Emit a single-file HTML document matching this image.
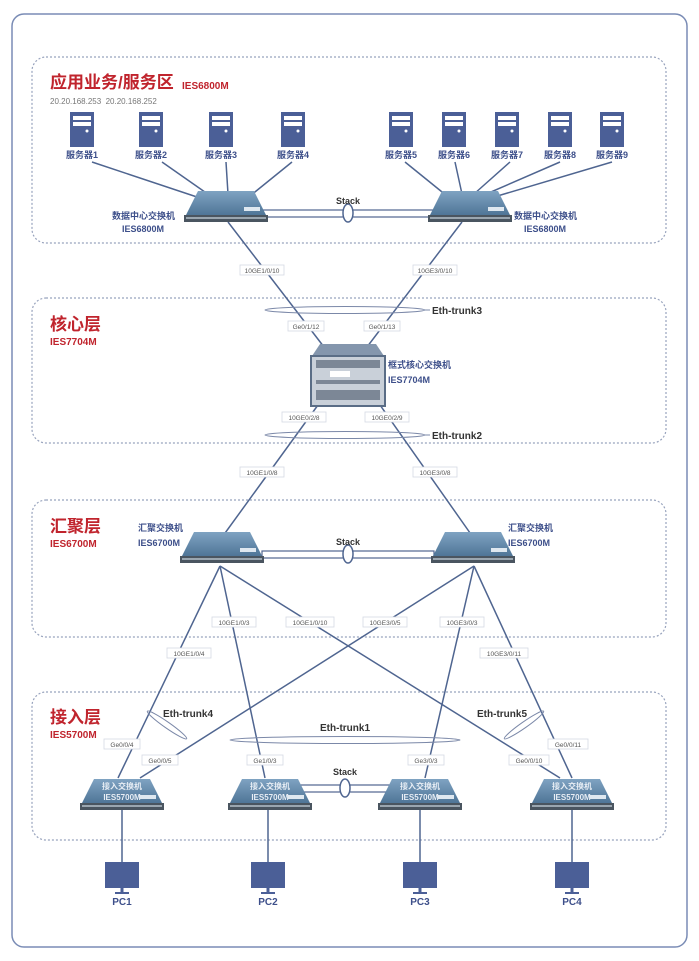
<!DOCTYPE html>
<html><head><meta charset="utf-8"><style>
html,body{margin:0;padding:0;background:#fff}
svg{display:block;font-family:"Liberation Sans","Noto Sans CJK SC",sans-serif}
</style></head><body>
<svg width="699" height="961" viewBox="0 0 699 961">
<defs>
<linearGradient id="sw" x1="0" y1="0" x2="0" y2="1"><stop offset="0" stop-color="#7fa3c2"/><stop offset="1" stop-color="#4f7597"/></linearGradient>
<g id="swd">
<polygon points="-28,-16 28,-16 40,8 -40,8" fill="url(#sw)"/>
<rect x="-42" y="8" width="84" height="7" fill="#4a5560"/>
<rect x="-40" y="10" width="80" height="2" fill="#9aa6b0"/>
<rect x="18" y="0" width="16" height="4" fill="#dfe8f0"/>
</g>
<g id="srv">
<rect x="-12" y="0" width="24" height="35" fill="#4b5f97"/>
<rect x="-9" y="4" width="18" height="4" fill="#fff"/>
<rect x="-9" y="10" width="18" height="4" fill="#fff"/>
<circle cx="5" cy="19" r="1.5" fill="#fff"/>
</g>
<g id="pc">
<rect x="-17" y="0" width="34" height="26" fill="#4b5f97"/>
<rect x="-1.5" y="26" width="3" height="4" fill="#4b5f97"/>
<rect x="-7" y="30" width="14" height="2" fill="#4b5f97"/>
</g>
</defs>
<rect x="12" y="14" width="675" height="933" rx="12" fill="none" stroke="#7a8cb5" stroke-width="1.5"/>
<g fill="none" stroke="#98a3bd" stroke-width="1.2" stroke-dasharray="2,2">
<rect x="32" y="57" width="634" height="186" rx="14"/>
<rect x="32" y="298" width="634" height="145" rx="14"/>
<rect x="32" y="500" width="634" height="137" rx="14"/>
<rect x="32" y="692" width="634" height="148" rx="14"/>
</g>
<!-- zone titles -->
<g fill="#c0242d" font-weight="bold">
<text x="50" y="88" font-size="17">应用业务/服务区</text>
<text x="182" y="89" font-size="10">IES6800M</text>
<text x="50" y="330" font-size="17">核心层</text>
<text x="50" y="345" font-size="10">IES7704M</text>
<text x="50" y="532" font-size="17">汇聚层</text>
<text x="50" y="547" font-size="10">IES6700M</text>
<text x="50" y="723" font-size="17">接入层</text>
<text x="50" y="738" font-size="10">IES5700M</text>
</g>
<text x="50" y="104" font-size="8" fill="#777">20.20.168.253 &#160;20.20.168.252</text>
<!-- lines -->
<g stroke="#4f6590" stroke-width="1.5" fill="none">
<line x1="92" y1="162" x2="200" y2="198"/><line x1="162" y1="162" x2="212" y2="197"/>
<line x1="226" y1="162" x2="228" y2="194"/><line x1="292" y1="162" x2="250" y2="196"/>
<line x1="405" y1="162" x2="447" y2="196"/><line x1="455" y1="162" x2="462" y2="194"/>
<line x1="510" y1="162" x2="474" y2="194"/><line x1="560" y1="162" x2="484" y2="195"/>
<line x1="612" y1="162" x2="494" y2="197"/>
<line x1="228" y1="222" x2="324" y2="347"/><line x1="462" y1="222" x2="367" y2="347"/>
<line x1="318" y1="405" x2="220" y2="540"/><line x1="380" y1="405" x2="475" y2="540"/>
<line x1="220" y1="566" x2="118" y2="778"/><line x1="220" y1="566" x2="265" y2="778"/><line x1="220" y1="566" x2="560" y2="778"/>
<line x1="474" y1="566" x2="140" y2="778"/><line x1="474" y1="566" x2="425" y2="778"/><line x1="474" y1="566" x2="572" y2="778"/>
<line x1="122" y1="810" x2="122" y2="862"/><line x1="268" y1="810" x2="268" y2="862"/>
<line x1="420" y1="810" x2="420" y2="862"/><line x1="572" y1="810" x2="572" y2="862"/>
</g>
<!-- stacks -->
<g stroke="#4f6590" stroke-width="1.2" fill="#fff">
<rect x="262" y="210" width="172" height="7"/>
<rect x="262" y="551" width="172" height="7"/>
<rect x="300" y="785" width="90" height="7"/>
</g>
<g stroke="#4f6590" stroke-width="1.5" fill="#fff">
<ellipse cx="348" cy="213" rx="5" ry="9"/><ellipse cx="348" cy="554" rx="5" ry="9"/><ellipse cx="345" cy="788" rx="5" ry="9"/>
</g>
<g fill="#333" font-size="9" font-weight="bold" text-anchor="middle">
<text x="348" y="204">Stack</text><text x="348" y="545">Stack</text><text x="345" y="775">Stack</text>
</g>
<!-- trunks -->
<g stroke="#7b88a8" stroke-width="1" fill="none">
<ellipse cx="345" cy="310" rx="80" ry="3.5"/><line x1="425" y1="310" x2="430" y2="310"/>
<ellipse cx="345" cy="435" rx="80" ry="3.5"/><line x1="425" y1="435" x2="430" y2="435"/>
<ellipse cx="345" cy="740" rx="115" ry="3.5"/>
<ellipse cx="167" cy="725" rx="24" ry="3" transform="rotate(35 167 725)"/>
<ellipse cx="524" cy="725" rx="24" ry="3" transform="rotate(-35 524 725)"/>
</g>
<g fill="#333" font-size="10" font-weight="bold">
<text x="432" y="314">Eth-trunk3</text><text x="432" y="439">Eth-trunk2</text>
<text x="320" y="731">Eth-trunk1</text><text x="163" y="717">Eth-trunk4</text><text x="477" y="717">Eth-trunk5</text>
</g>
<!-- port labels -->
<g font-size="6.5" fill="#555" text-anchor="middle">
<g fill="#fff" stroke="#d5d9e3" stroke-width="0.8">
<rect x="240" y="265" width="44" height="10"/><rect x="413" y="265" width="44" height="10"/>
<rect x="288" y="321" width="36" height="10"/><rect x="364" y="321" width="36" height="10"/>
<rect x="282" y="412" width="44" height="10"/><rect x="365" y="412" width="44" height="10"/>
<rect x="240" y="467" width="44" height="10"/><rect x="413" y="467" width="44" height="10"/>
<rect x="212" y="617" width="44" height="10"/><rect x="286" y="617" width="48" height="10"/>
<rect x="363" y="617" width="44" height="10"/><rect x="440" y="617" width="44" height="10"/>
<rect x="167" y="648" width="44" height="10"/><rect x="480" y="648" width="48" height="10"/>
<rect x="104" y="739" width="36" height="10"/><rect x="142" y="755" width="36" height="10"/>
<rect x="247" y="755" width="36" height="10"/><rect x="408" y="755" width="36" height="10"/>
<rect x="509" y="755" width="40" height="10"/><rect x="548" y="739" width="40" height="10"/>
</g>
<text x="262" y="273">10GE1/0/10</text><text x="435" y="273">10GE3/0/10</text>
<text x="306" y="329">Ge0/1/12</text><text x="382" y="329">Ge0/1/13</text>
<text x="304" y="420">10GE0/2/8</text><text x="387" y="420">10GE0/2/9</text>
<text x="262" y="475">10GE1/0/8</text><text x="435" y="475">10GE3/0/8</text>
<text x="234" y="625">10GE1/0/3</text><text x="310" y="625">10GE1/0/10</text>
<text x="385" y="625">10GE3/0/5</text><text x="462" y="625">10GE3/0/3</text>
<text x="189" y="656">10GE1/0/4</text><text x="504" y="656">10GE3/0/11</text>
<text x="122" y="747">Ge0/0/4</text><text x="160" y="763">Ge0/0/5</text>
<text x="265" y="763">Ge1/0/3</text><text x="426" y="763">Ge3/0/3</text>
<text x="529" y="763">Ge0/0/10</text><text x="568" y="747">Ge0/0/11</text>
</g>
<!-- servers -->
<use href="#srv" x="82" y="112"/><use href="#srv" x="151" y="112"/><use href="#srv" x="221" y="112"/><use href="#srv" x="293" y="112"/>
<use href="#srv" x="401" y="112"/><use href="#srv" x="454" y="112"/><use href="#srv" x="507" y="112"/><use href="#srv" x="560" y="112"/><use href="#srv" x="612" y="112"/>
<g fill="#3d4f8a" font-size="9" font-weight="bold" text-anchor="middle">
<text x="82" y="158">服务器1</text><text x="151" y="158">服务器2</text><text x="221" y="158">服务器3</text><text x="293" y="158">服务器4</text>
<text x="401" y="158">服务器5</text><text x="454" y="158">服务器6</text><text x="507" y="158">服务器7</text><text x="560" y="158">服务器8</text><text x="612" y="158">服务器9</text>
</g>
<!-- switches -->
<use href="#swd" x="226" y="207"/><use href="#swd" x="470" y="207"/>
<use href="#swd" x="222" y="548"/><use href="#swd" x="473" y="548"/>
<g fill="#3d4f8a" font-size="9" font-weight="bold">
<text x="112" y="219">数据中心交换机</text><text x="122" y="232">IES6800M</text>
<text x="514" y="219">数据中心交换机</text><text x="524" y="232">IES6800M</text>
<text x="138" y="531">汇聚交换机</text><text x="138" y="546">IES6700M</text>
<text x="508" y="531">汇聚交换机</text><text x="508" y="546">IES6700M</text>
<text x="388" y="368">框式核心交换机</text><text x="388" y="383">IES7704M</text>
</g>
<!-- core chassis -->
<polygon points="320,344 376,344 384,356 312,356" fill="#8496ad"/>
<rect x="311" y="356" width="74" height="50" fill="#c9d0d9" stroke="#5a6d86" stroke-width="2"/>
<g fill="#7c8796"><rect x="316" y="360" width="64" height="8"/><rect x="316" y="380" width="64" height="4"/><rect x="316" y="390" width="64" height="10"/></g>
<rect x="330" y="371" width="20" height="6" fill="#fff"/>
<!-- access switches -->
<g font-size="8" font-weight="bold" fill="#e8eef5" text-anchor="middle">
<g transform="translate(122,795)"><use href="#swd"/><text y="-6">接入交换机</text><text y="5">IES5700M</text></g>
<g transform="translate(270,795)"><use href="#swd"/><text y="-6">接入交换机</text><text y="5">IES5700M</text></g>
<g transform="translate(420,795)"><use href="#swd"/><text y="-6">接入交换机</text><text y="5">IES5700M</text></g>
<g transform="translate(572,795)"><use href="#swd"/><text y="-6">接入交换机</text><text y="5">IES5700M</text></g>
</g>
<!-- PCs -->
<use href="#pc" x="122" y="862"/><use href="#pc" x="268" y="862"/><use href="#pc" x="420" y="862"/><use href="#pc" x="572" y="862"/>
<g fill="#3d4f8a" font-size="10" font-weight="bold" text-anchor="middle">
<text x="122" y="905">PC1</text><text x="268" y="905">PC2</text><text x="420" y="905">PC3</text><text x="572" y="905">PC4</text>
</g>
</svg>
</body></html>
